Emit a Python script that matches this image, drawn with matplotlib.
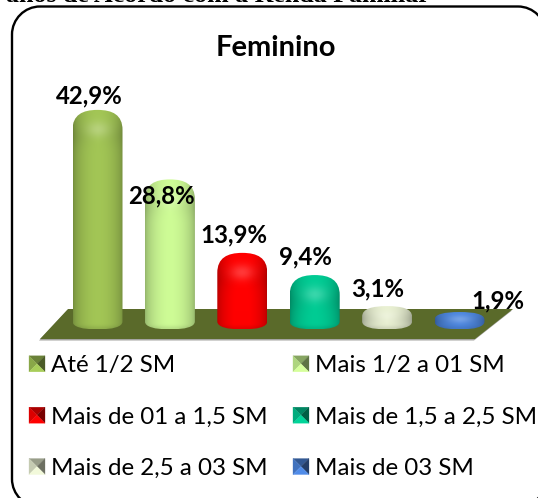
import numpy as np
import matplotlib
matplotlib.use("Agg")
import matplotlib.pyplot as plt
from matplotlib.path import Path
from matplotlib.patches import PathPatch, Polygon, Patch
from matplotlib.legend_handler import HandlerBase
from matplotlib.colors import to_rgb

categories = ["Até 1/2 SM", "Mais 1/2 a 01 SM", "Mais de 01 a 1,5 SM",
              "Mais de 1,5 a 2,5 SM", "Mais de 2,5 a 03 SM", "Mais de 03 SM"]
values = [42.9, 28.8, 13.9, 9.4, 3.1, 1.9]
colors = ["#9CBE52", "#C6F290", "#FA0000", "#00C48E", "#E0E7CA", "#4A82D8"]
label_dx = [-8, -8, -8, -9, -9, 38]
label_dy = [14, -17, 18, 18, 17, 11]
title = "Feminino"
header = "anos de Acordo com a Renda Familiar"

W, H = 538, 498
X0, DX = 97.5, 72.4       # pixel position of the first category, spacing
Y0, DY = 321.4, 4.93      # pixel row of value 0, pixels per unit
BAR_W, BASE_RY = 50, 8

fig = plt.figure(figsize=(W / 100, H / 100), dpi=100, facecolor="white")
ax = fig.add_axes([0, 0, 1, 1])
xlim = ((0 - X0) / DX, (W - X0) / DX)
ylim = ((Y0 - H) / DY, (Y0 - 0) / DY)


def px(x, y):
    return ((np.asarray(x, float) - X0) / DX, (Y0 - np.asarray(y, float)) / DY)


def px_pts(pts):
    xs, ys = px([p[0] for p in pts], [p[1] for p in pts])
    return np.column_stack([xs, ys])


# rounded frame, running past the right and bottom edges
l, t, r, b, rad = 12, 6.5, 546, 507, 28
k = 0.45
frame_pts = [(l + rad, t), (r - rad, t), (r - rad * k, t), (r, t + rad * k), (r, t + rad),
             (r, b - rad), (r, b - rad * k), (r - rad * k, b), (r - rad, b),
             (l + rad, b), (l + rad * k, b), (l, b - rad * k), (l, b - rad),
             (l, t + rad), (l, t + rad * k), (l + rad * k, t), (l + rad, t)]
frame_codes = [Path.MOVETO, Path.LINETO, Path.CURVE4, Path.CURVE4, Path.CURVE4,
               Path.LINETO, Path.CURVE4, Path.CURVE4, Path.CURVE4,
               Path.LINETO, Path.CURVE4, Path.CURVE4, Path.CURVE4,
               Path.LINETO, Path.CURVE4, Path.CURVE4, Path.CURVE4]
ax.add_patch(PathPatch(Path(px_pts(frame_pts), frame_codes), fc="white", ec="black", lw=1.7, zorder=1))

# floor
floor = [(40, 339), (475, 339), (513, 309), (68, 309)]
ax.add_patch(Polygon(px_pts([(p[0] - 1, p[1] + 1.5) for p in floor]), closed=True, fc="#A4A4A0", ec="none", zorder=2))
ax.add_patch(Polygon(px_pts(floor), closed=True, fc="#5A6A2A", ec="none", zorder=3))


def bar_image(color, h_total, cap):
    rows, cols = max(int(h_total * 2), 8), 100
    yy = np.linspace(0, h_total, rows)[:, None]
    u = np.linspace(0, 1, cols)[None, :]
    shade = 0.74 + 0.30 * np.sin(np.pi * u) ** 0.6
    shade = np.repeat(shade, rows, axis=0)
    # cap: soft fold under the cap, soft highlight on the cap
    fold = np.exp(-((yy - cap * 1.3) / (cap * 0.5 + 1)) ** 2)
    shade = shade - 0.05 * fold * np.abs(2 * u - 1) ** 0.6
    glow = np.exp(-((u - 0.5) / 0.24) ** 2 - ((yy - cap * 1.0) / (cap * 0.35 + 1)) ** 2)
    rgb = np.array(to_rgb(color))[None, None, :]
    img = np.clip(rgb * shade[:, :, None], 0, 1)
    img = img + (1 - img) * (0.22 * glow)[:, :, None]
    # lower rim of the base
    base = np.exp(-((yy - h_total) / 3.0) ** 2)
    img = img * (1 - 0.10 * base)[:, :, None]
    return np.clip(img, 0, 1)


for i, (v, c) in enumerate(zip(values, colors)):
    cx = X0 + DX * i
    top = Y0 - DY * v
    bottom = Y0 + BASE_RY
    h_total = bottom - top
    cap = min(20, h_total * 0.45)
    xl, xr = cx - BAR_W / 2, cx + BAR_W / 2
    pts = [(xl, bottom - BASE_RY), (xl, top + cap),
           (xl, top + cap * 0.25), (cx - BAR_W * 0.30, top), (cx, top),
           (cx + BAR_W * 0.30, top), (xr, top + cap * 0.25), (xr, top + cap),
           (xr, bottom - BASE_RY),
           (xr, bottom - BASE_RY * 0.3), (cx + BAR_W * 0.3, bottom), (cx, bottom),
           (cx - BAR_W * 0.3, bottom), (xl, bottom - BASE_RY * 0.3), (xl, bottom - BASE_RY)]
    codes = [Path.MOVETO, Path.LINETO, Path.CURVE4, Path.CURVE4, Path.CURVE4,
             Path.CURVE4, Path.CURVE4, Path.CURVE4, Path.LINETO,
             Path.CURVE4, Path.CURVE4, Path.CURVE4, Path.CURVE4, Path.CURVE4, Path.CURVE4]
    patch = PathPatch(Path(px_pts(pts), codes), transform=ax.transData, fc="none", ec="none", zorder=4)
    ax.add_patch(patch)
    (x_a, x_b), (y_a, y_b) = px([xl, xr], [bottom, top])
    im = ax.imshow(bar_image(c, h_total, cap), extent=(x_a, x_b, y_a, y_b), origin="upper",
                   aspect="auto", interpolation="bilinear", zorder=4)
    im.set_clip_path(patch)
    ax.annotate(f"{v:.1f}%".replace(".", ","), xy=(i, v),
                xytext=(label_dx[i], label_dy[i]), textcoords="offset pixels",
                ha="center", va="center", fontsize=17.3, fontweight="bold",
                family="Lato", color="black", zorder=6)

ax.set_xlim(*xlim)
ax.set_ylim(*ylim)
ax.axis("off")

fig.text(276 / W, 1 - 48 / H, title, ha="center", va="center", fontsize=21,
         fontweight="bold", family="Lato")
fig.text(430 / W, 1 - 2 / H, header, ha="right", va="baseline", fontsize=18.6,
         fontweight="bold", family="Liberation Serif")


class PyramidHandler(HandlerBase):
    def create_artists(self, legend, orig, xd, yd, w, h, fontsize, trans):
        rgb = np.array(to_rgb(orig.get_facecolor()))
        s = 16.0 * 72 / 100
        x0, y0 = -xd, -yd + (h - s) / 2
        x1, y1 = x0 + s, y0 + s
        cxp, cyp = (x0 + x1) / 2, (y0 + y1) / 2
        faces = [([(x0, y1), (x1, y1), (cxp, cyp)], 0.68),
                 ([(x0, y0), (x0, y1), (cxp, cyp)], 0.88),
                 ([(x1, y0), (x1, y1), (cxp, cyp)], 0.48),
                 ([(x0, y0), (x1, y0), (cxp, cyp)], 1.08)]
        out = []
        for pts, f in faces:
            col = np.clip(rgb * f, 0, 1)
            out.append(Polygon(pts, closed=True, fc=col, ec=col, lw=0.2, transform=trans))
        return out


handles = [Patch(facecolor=c, label=n) for c, n in zip(colors, categories)]
order = [0, 2, 4, 1, 3, 5]
leg = fig.legend([handles[j] for j in order], [categories[j] for j in order], ncol=2,
                 loc="upper left", bbox_to_anchor=(29 / W, 1 - 353 / H), frameon=False,
                 prop={"family": "Lato", "size": 17.4}, borderpad=0, borderaxespad=0,
                 handler_map={Patch: PyramidHandler()}, handlelength=0.67, handleheight=1.0,
                 handletextpad=0.25, labelspacing=1.17, columnspacing=1.04)

fig.savefig("out.png", dpi=100)
